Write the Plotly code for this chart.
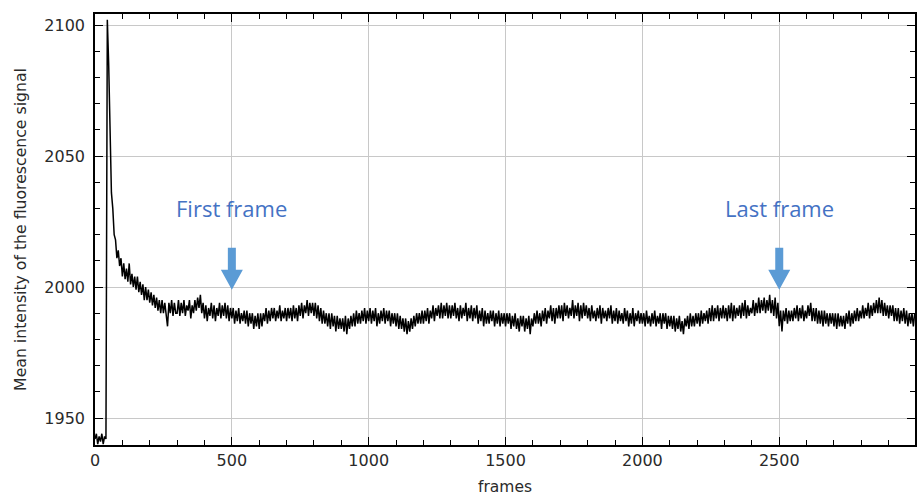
import plotly.graph_objects as go

# Mean fluorescence intensity sampled every 5 frames (frames 0 .. 2995)
frame_step = 5
intensity = [
    # 0-95
    1942, 1944, 1940, 1943, 1941, 1944, 1940, 1943, 1942, 2102, 2085, 2053, 2036, 2030, 2020, 2018, 2011, 2014, 2008, 2011,
    # 100-195
    2004, 2009, 2003, 2007, 2002, 2009, 2001, 2005, 2000, 2004, 1999, 2004, 1998, 2002, 1997, 2001, 1995, 2000, 1995, 1999,
    # 200-295
    1994, 1998, 1993, 1997, 1992, 1996, 1991, 1995, 1990, 1995, 1990, 1994, 1989, 1985, 1994, 1990, 1995, 1989, 1994, 1990,
    # 300-395
    1990, 1995, 1989, 1994, 1990, 1995, 1989, 1993, 1991, 1995, 1988, 1993, 1990, 1995, 1991, 1996, 1992, 1997, 1990, 1994,
    # 400-495
    1988, 1993, 1987, 1992, 1989, 1994, 1988, 1993, 1987, 1992, 1989, 1994, 1988, 1993, 1989, 1994, 1988, 1993, 1987, 1992,
    # 500-595
    1988, 1992, 1986, 1991, 1987, 1992, 1986, 1990, 1987, 1991, 1986, 1991, 1985, 1990, 1986, 1990, 1984, 1989, 1985, 1990,
    # 600-695
    1984, 1990, 1985, 1990, 1987, 1992, 1986, 1991, 1987, 1992, 1988, 1992, 1987, 1991, 1988, 1993, 1987, 1991, 1988, 1992,
    # 700-795
    1987, 1992, 1988, 1992, 1987, 1993, 1988, 1992, 1987, 1993, 1989, 1994, 1988, 1993, 1990, 1995, 1989, 1994, 1990, 1994,
    # 800-895
    1989, 1994, 1988, 1993, 1987, 1992, 1986, 1991, 1986, 1990, 1985, 1990, 1984, 1990, 1985, 1989, 1983, 1989, 1984, 1988,
    # 900-995
    1984, 1988, 1983, 1989, 1982, 1988, 1984, 1989, 1985, 1990, 1985, 1991, 1986, 1990, 1986, 1991, 1987, 1992, 1986, 1991,
    # 1000-1095
    1987, 1992, 1986, 1991, 1987, 1992, 1985, 1990, 1986, 1991, 1987, 1992, 1986, 1991, 1987, 1991, 1985, 1990, 1986, 1990,
    # 1100-1195
    1985, 1990, 1984, 1989, 1984, 1988, 1983, 1988, 1982, 1987, 1983, 1988, 1984, 1989, 1985, 1990, 1986, 1990, 1986, 1991,
    # 1200-1295
    1986, 1991, 1987, 1992, 1986, 1991, 1988, 1993, 1987, 1992, 1989, 1993, 1988, 1994, 1988, 1993, 1989, 1994, 1988, 1993,
    # 1300-1395
    1988, 1993, 1989, 1994, 1988, 1992, 1987, 1993, 1988, 1992, 1989, 1994, 1987, 1992, 1988, 1993, 1987, 1992, 1988, 1993,
    # 1400-1495
    1986, 1991, 1987, 1992, 1985, 1991, 1986, 1990, 1986, 1991, 1987, 1991, 1985, 1990, 1986, 1991, 1985, 1990, 1986, 1990,
    # 1500-1595
    1985, 1990, 1986, 1990, 1984, 1989, 1985, 1990, 1984, 1988, 1983, 1989, 1985, 1989, 1983, 1988, 1984, 1989, 1982, 1988,
    # 1600-1695
    1985, 1990, 1986, 1991, 1986, 1990, 1985, 1991, 1987, 1992, 1986, 1991, 1988, 1993, 1987, 1992, 1986, 1992, 1988, 1993,
    # 1700-1795
    1988, 1993, 1987, 1994, 1989, 1993, 1988, 1992, 1989, 1995, 1988, 1993, 1989, 1994, 1987, 1993, 1988, 1994, 1989, 1993,
    # 1800-1895
    1988, 1992, 1987, 1993, 1988, 1991, 1987, 1992, 1988, 1993, 1986, 1992, 1988, 1991, 1987, 1992, 1988, 1993, 1986, 1991,
    # 1900-1995
    1987, 1992, 1986, 1991, 1987, 1990, 1986, 1992, 1987, 1991, 1985, 1990, 1986, 1992, 1985, 1990, 1987, 1991, 1986, 1990,
    # 2000-2095
    1986, 1990, 1985, 1991, 1986, 1989, 1985, 1990, 1986, 1991, 1985, 1989, 1986, 1990, 1984, 1990, 1986, 1990, 1984, 1989,
    # 2100-2195
    1985, 1989, 1984, 1989, 1983, 1988, 1984, 1989, 1983, 1987, 1982, 1988, 1985, 1989, 1984, 1990, 1985, 1989, 1985, 1990,
    # 2200-2295
    1986, 1990, 1985, 1991, 1986, 1990, 1987, 1991, 1986, 1992, 1987, 1993, 1987, 1992, 1988, 1993, 1987, 1992, 1988, 1993,
    # 2300-2395
    1988, 1992, 1987, 1993, 1988, 1994, 1987, 1993, 1988, 1992, 1989, 1993, 1988, 1994, 1989, 1995, 1988, 1993, 1989, 1992,
    # 2400-2495
    1990, 1995, 1989, 1994, 1990, 1996, 1990, 1995, 1991, 1996, 1990, 1995, 1991, 1997, 1990, 1995, 1989, 1996, 1988, 1994,
    # 2500-2595
    1985, 1991, 1983, 1991, 1987, 1992, 1986, 1991, 1987, 1991, 1987, 1992, 1988, 1993, 1987, 1992, 1988, 1993, 1987, 1991,
    # 2600-2695
    1988, 1993, 1989, 1994, 1987, 1992, 1987, 1992, 1986, 1991, 1986, 1991, 1985, 1991, 1986, 1990, 1985, 1990, 1986, 1990,
    # 2700-2795
    1985, 1990, 1984, 1990, 1985, 1989, 1985, 1989, 1984, 1990, 1986, 1991, 1985, 1990, 1986, 1991, 1987, 1992, 1987, 1991,
    # 2800-2895
    1988, 1993, 1988, 1992, 1989, 1994, 1988, 1993, 1989, 1994, 1990, 1995, 1990, 1996, 1990, 1995, 1989, 1994, 1989, 1993,
    # 2900-2995
    1988, 1993, 1989, 1993, 1987, 1992, 1987, 1992, 1986, 1991, 1987, 1992, 1986, 1991, 1985, 1990, 1986, 1990, 1985, 1990,
]
frames = [i * frame_step for i in range(len(intensity))]

# Marked frames with their labels
marker_frames = [500, 2500]
marker_labels = ["First frame", "Last frame"]
marker_level = 1999

x_ticks = [0, 500, 1000, 1500, 2000, 2500]
y_ticks = [1950, 2000, 2050, 2100]

ARROW_BLUE = "#5B9BD5"
TEXT_BLUE = "#4472C4"
TEXT_GREY = "#2a2a2a"
AXIS_FONT = dict(family="DejaVu Sans", size=16, color=TEXT_GREY)

fig = go.Figure()
fig.add_trace(go.Scatter(
    x=frames, y=intensity, mode="lines",
    line=dict(color="black", width=1.5),
    showlegend=False, hoverinfo="skip",
))

# Block arrows pointing down at the marked frames, sized in pixels
arrow_path = "M-4,42 L4,42 L4,20 L11,20 L0,0 L-11,20 L-4,20 Z"
for f, label in zip(marker_frames, marker_labels):
    fig.add_shape(
        type="path", xref="x", yref="y",
        xsizemode="pixel", ysizemode="pixel",
        xanchor=f, yanchor=marker_level,
        path=arrow_path,
        fillcolor=ARROW_BLUE, line=dict(width=0),
    )
    fig.add_annotation(
        x=f, y=marker_level, xref="x", yref="y",
        text=label, showarrow=False,
        yshift=82, yanchor="middle",
        font=dict(family="Open Sans", size=22, color=TEXT_BLUE),
    )

axis_common = dict(
    showline=True, linecolor="black", linewidth=1.5, mirror="allticks",
    ticks="inside", ticklen=8, tickwidth=1.2, tickcolor="black",
    showgrid=True, gridcolor="#c8c8c8", gridwidth=1.3,
    zeroline=False, tickfont=AXIS_FONT,
)

fig.update_xaxes(
    range=[0, 2996], tickvals=x_ticks,
    minor=dict(dtick=100, tick0=0, ticks="inside", ticklen=5, tickwidth=1.2,
               tickcolor="black", showgrid=False),
    title=dict(text="frames", font=dict(family="DejaVu Sans", size=15.5, color=TEXT_GREY), standoff=12),
    **axis_common,
)
fig.update_yaxes(
    range=[1939.7, 2104.2], tickvals=y_ticks, ticklabelstandoff=5,
    minor=dict(dtick=10, tick0=1950, ticks="inside", ticklen=5, tickwidth=1.2,
               tickcolor="black", showgrid=False),
    title=dict(text="Mean intensity of the fluorescence signal",
               font=dict(family="DejaVu Sans", size=15.7, color=TEXT_GREY), standoff=14),
    **axis_common,
)

fig.update_layout(
    width=918, height=497,
    margin=dict(l=95, r=1, t=14, b=52),
    paper_bgcolor="white", plot_bgcolor="white",
)

fig.write_html("out.html")
